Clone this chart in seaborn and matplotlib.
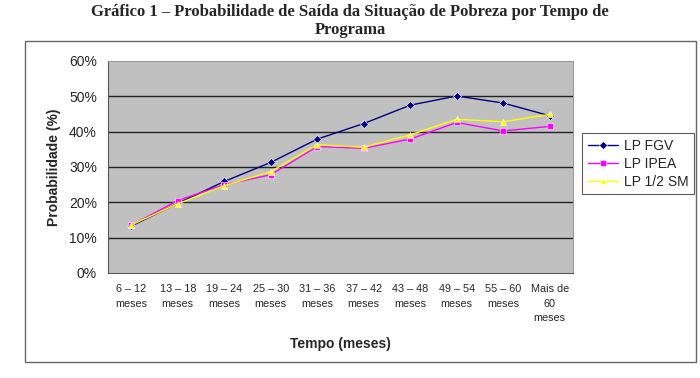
import numpy as np
import pandas as pd
import matplotlib
matplotlib.use("Agg")
import matplotlib.pyplot as plt
from matplotlib.patches import Rectangle
from matplotlib.ticker import FixedLocator, PercentFormatter
import seaborn as sns

# categorias do eixo x
categorias = ["6 – 12\nmeses", "13 – 18\nmeses", "19 – 24\nmeses", "25 – 30\nmeses",
              "31 – 36\nmeses", "37 – 42\nmeses", "43 – 48\nmeses", "49 – 54\nmeses",
              "55 – 60\nmeses", "Mais de\n60\nmeses"]

# probabilidades (%)
lp_fgv = [13.3, 19.7, 25.9, 31.3, 37.9, 42.3, 47.5, 50.1, 48.1, 44.5]
lp_ipea = [13.5, 20.5, 25.0, 27.8, 35.8, 35.3, 37.9, 42.6, 40.2, 41.5]
lp_sm = [13.6, 19.6, 24.7, 28.7, 36.3, 35.6, 39.1, 43.5, 42.8, 44.9]

series = ["LP FGV", "LP IPEA", "LP 1/2 SM"]
cores = {"LP FGV": "#000080", "LP IPEA": "#FF00FF", "LP 1/2 SM": "#FFFF00"}
marcadores = {"LP FGV": "D", "LP IPEA": "s", "LP 1/2 SM": "^"}

pos = np.arange(len(categorias)) + 0.5
df = pd.concat([
    pd.DataFrame({"pos": pos, "valor": v, "serie": s})
    for s, v in zip(series, [lp_fgv, lp_ipea, lp_sm])
])

sns.set_style("white")
plt.rcParams["font.family"] = ["Liberation Sans", "DejaVu Sans"]

fig = plt.figure(figsize=(7.0, 3.78), dpi=100)
ax = fig.add_axes([108 / 700, 1 - 273 / 378, (573 - 108) / 700, (273 - 61) / 378])

# moldura externa do grafico
fig.add_artist(Rectangle((25 / 700, 1 - 362 / 378), 671 / 700, 321 / 378,
                         transform=fig.transFigure, fill=False,
                         edgecolor="#666666", linewidth=1.0))

ax.set_facecolor("#C0C0C0")
for y in range(10, 60, 10):
    ax.axhline(y, color="#222222", linewidth=1.0, zorder=1)

sns.lineplot(data=df, x="pos", y="valor", hue="serie", style="serie",
             hue_order=series, style_order=series, palette=cores,
             markers=marcadores, dashes=False, linewidth=1.0,
             markersize=4, markeredgewidth=0.4, ax=ax, zorder=3)

ax.set_xlim(0, len(categorias))
ax.set_ylim(0, 60)
ax.yaxis.set_major_locator(FixedLocator(range(0, 70, 10)))
ax.yaxis.set_major_formatter(PercentFormatter(decimals=0))
ax.xaxis.set_major_locator(FixedLocator(range(0, len(categorias) + 1)))
ax.xaxis.set_minor_locator(FixedLocator(pos))
ax.set_xticklabels([], minor=False)
ax.set_xticklabels(categorias, minor=True, fontsize=7.8, linespacing=1.55)
ax.tick_params(axis="x", which="major", direction="out", length=4, width=0.8, color="#555555")
ax.tick_params(axis="x", which="minor", length=0, pad=8)
ax.tick_params(axis="y", direction="out", length=4, width=0.8, color="#555555",
               labelsize=10, pad=4)
for lado in ["top", "right"]:
    ax.spines[lado].set_color("#999999")
    ax.spines[lado].set_linewidth(0.8)
for lado in ["left", "bottom"]:
    ax.spines[lado].set_color("#555555")
    ax.spines[lado].set_linewidth(0.8)

ax.set_xlabel("Tempo (meses)", fontsize=10, fontweight="bold", labelpad=10)
ax.set_ylabel("Probabilidade (%)", fontsize=10, fontweight="bold", labelpad=6)

leg = ax.legend(loc="upper left", bbox_to_anchor=(582 / 700, 1 - 133 / 378),
                bbox_transform=fig.transFigure, frameon=True, fancybox=False,
                fontsize=10, borderpad=0.4, labelspacing=0.3, handlelength=2.2,
                handletextpad=0.4, borderaxespad=0)
leg.get_frame().set_edgecolor("#333333")
leg.get_frame().set_linewidth(0.8)

fig.text(0.5, 1 - 12 / 378, "Gráfico 1 – Probabilidade de Saída da Situação de Pobreza por Tempo de",
         ha="center", va="center", fontsize=12, fontweight="bold", family="Liberation Serif")
fig.text(0.5, 1 - 30 / 378, "Programa", ha="center", va="center", fontsize=12,
         fontweight="bold", family="Liberation Serif")

fig.savefig("out.png", dpi=100)
